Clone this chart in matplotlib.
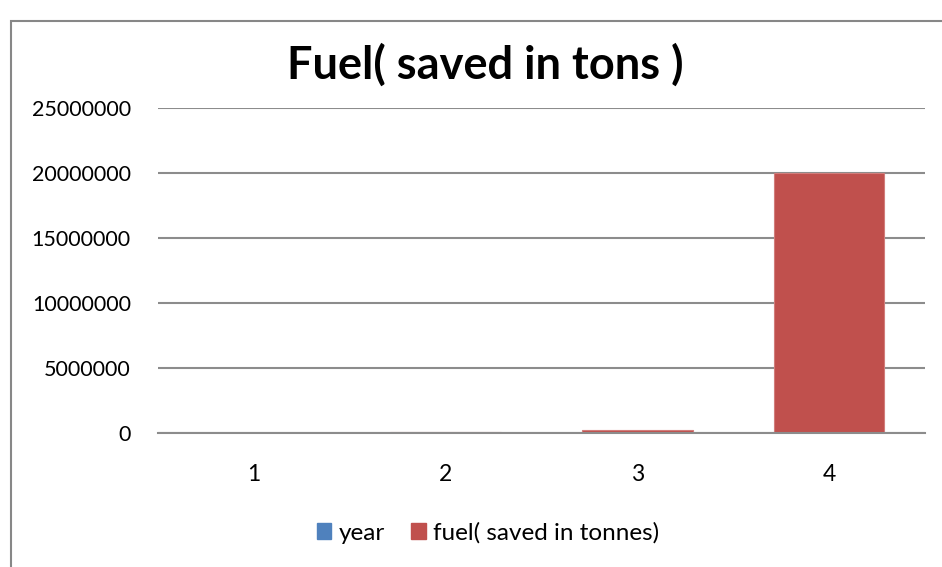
import matplotlib.pyplot as plt
import matplotlib.patches as patches
import numpy as np

# data
categories = ['1', '2', '3', '4']
year = [2011, 2012, 2013, 2014]
fuel_saved = [5000, 70000, 250000, 20000000]
y_ticks = [0, 5000000, 10000000, 15000000, 20000000, 25000000]

W, H = 942, 567
fig = plt.figure(figsize=(W / 100, H / 100), dpi=100)
plt.rcParams['font.family'] = ['Lato', 'DejaVu Sans']

# outer chart border (only left/top visible in the crop)
fig.patches.append(patches.Rectangle((11 / W, -0.1), 1.2, (H - 21) / H + 0.1,
                                     transform=fig.transFigure, fill=False,
                                     edgecolor='#878787', linewidth=1.5))

ax = fig.add_axes([158 / W, (H - 433) / H, (925 - 158) / W, (433 - 108) / H])
x = np.arange(1, len(categories) + 1)
c_blue = '#4f81bd'
c_red = '#c0504d'
ax.bar(x, year, width=0.575, color=c_blue, label='year', zorder=3)
ax.bar(x, fuel_saved, width=0.575, color=c_red, edgecolor='#d27d7b',
       linewidth=0.8, label='fuel( saved in tonnes)', zorder=3)

ax.set_xlim(0.5, 4.5)
ax.set_ylim(0, 25000000)
ax.set_yticks(y_ticks)
ax.set_yticklabels([str(v) for v in y_ticks], fontsize=15.5)
ax.set_xticks(x)
ax.set_xticklabels(categories, fontsize=16.5)
ax.tick_params(axis='y', length=0, pad=19.5)
ax.tick_params(axis='x', length=0, pad=22)
ax.grid(axis='y', color='#8c8c8c', linewidth=1.5, zorder=1)
for s in ['top', 'right', 'left']:
    ax.spines[s].set_visible(False)
ax.spines['bottom'].set_color('#8c8c8c')
ax.spines['bottom'].set_linewidth(1.5)
ax.spines['bottom'].set_zorder(4)

fig.text(485 / W, 1 - 65 / H, 'Fuel( saved in tons )', ha='center', va='center',
         fontsize=32.5, fontweight='bold')

handles = [patches.Patch(color=c_blue), patches.Patch(color=c_red)]
fig.legend(handles, ['year', 'fuel( saved in tonnes)'], loc='center',
           bbox_to_anchor=(488 / W, 1 - 533 / H), ncol=2, frameon=False,
           fontsize=17.5, handlelength=0.6, handleheight=0.6, handletextpad=0.3,
           columnspacing=1.1)

fig.savefig('out.png', dpi=100, facecolor='white')
